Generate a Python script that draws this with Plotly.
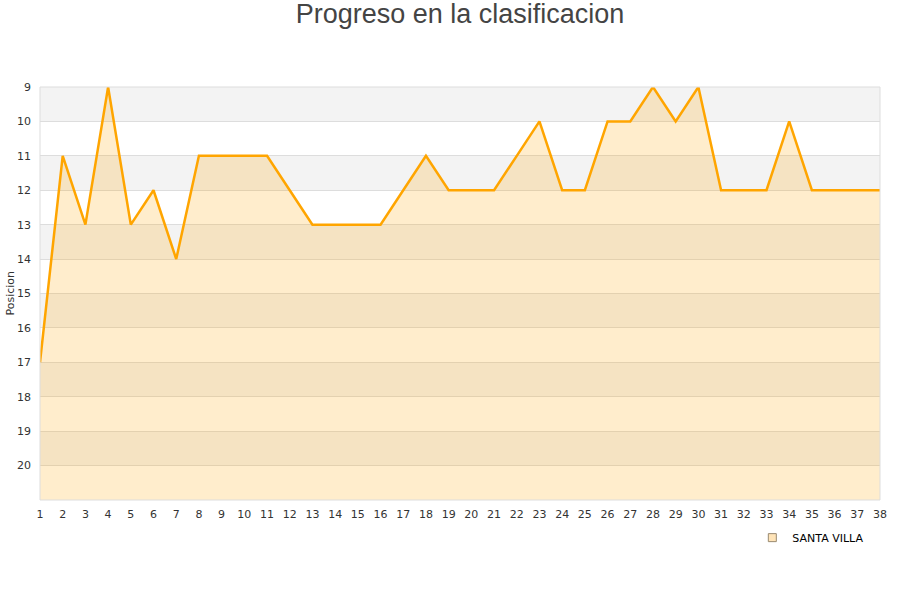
import plotly.graph_objects as go

jornadas = list(range(1, 39))
posicion = [17, 11, 13, 9, 13, 12, 14, 11, 11, 11, 11, 12, 13, 13, 13, 13, 12, 11, 12, 12,
            12, 11, 10, 12, 12, 10, 10, 9, 10, 9, 12, 12, 12, 10, 12, 12, 12, 12]
equipo = "SANTA VILLA"
y_ticks = list(range(9, 21))
y_bottom = 21

fig = go.Figure()
fig.add_trace(go.Scatter(x=jornadas, y=[y_bottom] * len(jornadas), mode="lines",
                         line=dict(width=0, color="rgba(0,0,0,0)"), showlegend=False,
                         hoverinfo="skip"))
fig.add_trace(go.Scatter(x=jornadas, y=posicion, mode="lines", fill="tonexty",
                         fillcolor="rgba(255,165,0,0.2)",
                         line=dict(color="#ffa500", width=2.5), showlegend=False, name=equipo))
fig.add_trace(go.Scatter(x=[None], y=[None], mode="markers", name=equipo,
                         marker=dict(symbol="square", size=8, color="#ffe4b8",
                                     line=dict(color="#9a8a70", width=1))))

shapes = []
for k in range(9, 21, 2):
    shapes.append(dict(type="rect", xref="paper", yref="y", x0=0, x1=1, y0=k, y1=k + 1,
                       fillcolor="#f3f3f3", line=dict(width=0), layer="below"))
shapes.append(dict(type="rect", xref="paper", yref="paper", x0=0, x1=1, y0=0, y1=1,
                   line=dict(color="#dddddd", width=1), fillcolor="rgba(0,0,0,0)"))

fig.update_layout(
    width=900, height=600,
    paper_bgcolor="white", plot_bgcolor="white",
    margin=dict(l=40, r=20, t=87, b=100, autoexpand=False),
    title=dict(text="Progreso en la clasificacion", x=0.5, y=0.993, xref="paper", yref="container",
               xanchor="center", yanchor="top", pad=dict(t=0, b=0),
               font=dict(family="Liberation Sans, Arial", size=27, color="#444444")),
    shapes=shapes,
    annotations=[dict(text="Posicion", xref="paper", yref="paper", x=0, y=0.5, xshift=-30,
                      textangle=-90, showarrow=False, xanchor="center", yanchor="middle",
                      font=dict(size=11, color="#333333"))],
    showlegend=True,
    legend=dict(x=0.848, y=-0.056, xanchor="left", yanchor="top", bgcolor="rgba(255,255,255,0)",
                font=dict(family="DejaVu Sans", size=11, color="#000000"),
                itemwidth=30),
    font=dict(family="DejaVu Sans", size=11, color="#333333"),
)
fig.update_xaxes(range=[1, 38], tickvals=jornadas, showgrid=False, zeroline=False, automargin=False,
                 ticks="", ticklabelstandoff=6, tickfont=dict(size=11, color="#333333"), fixedrange=True)
fig.update_yaxes(range=[y_bottom, 9], tickvals=y_ticks, showgrid=True, gridcolor="#dddddd",
                 gridwidth=1, zeroline=False, ticks="", automargin=False, ticklabelstandoff=8,
                 tickfont=dict(size=11, color="#333333"))

fig.write_html("out.html", config={"displayModeBar": False},
               post_script="document.body.style.margin='0';")
